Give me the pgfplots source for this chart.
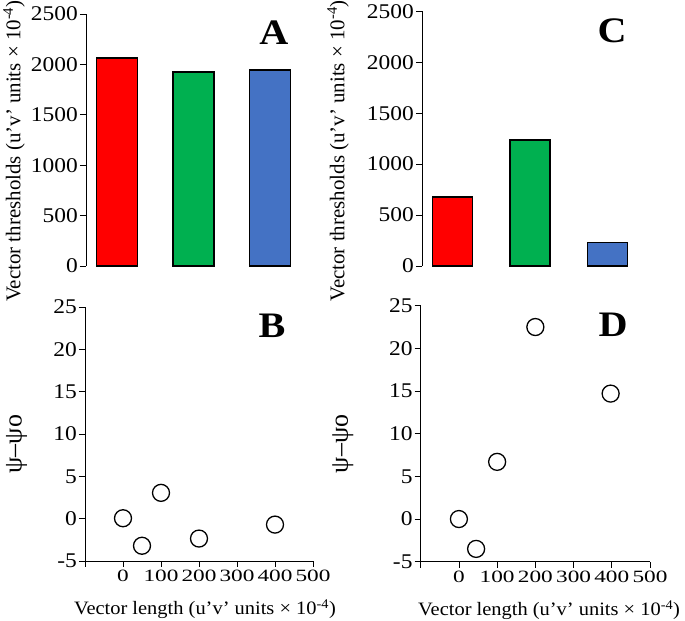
\documentclass[border=0pt]{standalone}
\usepackage{fontspec}
\setmainfont{Liberation Serif}
\newfontfamily\wideA[FakeStretch=1.12]{Liberation Serif}
\newfontfamily\wideB[FakeStretch=1.35]{Liberation Serif}
\newfontfamily\wideC[FakeStretch=1.08]{Liberation Serif}
\usepackage{pgfplots}
\pgfplotsset{compat=1.18}
\definecolor{cred}{RGB}{255,0,0}
\definecolor{cgreen}{RGB}{0,176,80}
\definecolor{cblue}{RGB}{68,114,196}
\tikzset{letter/.style={font=\bfseries\wideA\fontsize{36}{36}\selectfont, anchor=base}}
\pgfplotsset{
  common/.style={scale only axis, clip=false,
    /pgf/number format/assume math mode=true,
    /pgf/number format/1000 sep={},
    tick align=outside, major tick length=6bp,
    axis line style={line width=0.8bp, black},
    tick style={line width=0.8bp, black},
    yticklabel style={font=\wideA\fontsize{21}{24}\selectfont, inner sep=2bp},
  },
  barax/.style={common, axis y line*=left, axis x line=none,
    ymin=0, ymax=2500, ytick={0,500,...,2500}, xmin=0.6, xmax=3.4,
    ylabel={Vector thresholds (u’v’ units × 10\textsuperscript{-4})},
    ylabel style={font=\fontsize{21}{23}\selectfont, anchor=center},
  },
  scatax/.style={common, axis lines*=left,
    xmin=-100, xmax=500, ymin=-5, ymax=25,
    xtick={-100,0,100,200,300,400,500}, xticklabels={,0,100,200,300,400,500},
    ytick={-5,0,5,10,15,20,25},
    xticklabel style={font=\wideB\fontsize{17.3}{20}\selectfont, inner sep=3bp},
    ylabel={ψ–ψo},
    ylabel style={font=\fontsize{26}{28}\selectfont, anchor=center},
    xlabel={Vector length (u’v’ units × 10\textsuperscript{-4})},
    xlabel style={font=\wideC\fontsize{19}{22}\selectfont, anchor=center},
  },
  barst/.style={ybar, bar shift=0pt, draw=black, line width=1.1bp},
  scst/.style={only marks, mark=o, mark size=8.5bp, mark options={line width=1.3bp, draw=black, fill=white}},
}
\begin{document}
\begin{tikzpicture}
% Panel A
\begin{axis}[barax, at={(86bp,355bp)}, anchor=south west, width=215bp, height=252bp,
  ylabel style={at={(axis description cs:-0.335,0.456)}}]
\addplot[barst, bar width=41bp, fill=cred] coordinates {(1,2063)};
\addplot[barst, bar width=41bp, fill=cgreen] coordinates {(2,1925)};
\addplot[barst, bar width=41bp, fill=cblue] coordinates {(3,1944)};
\node[letter] at (rel axis cs:0.874,0.877) {A};
\end{axis}
% Panel C
\begin{axis}[barax, at={(422bp,355bp)}, anchor=south west, width=216bp, height=254.7bp,
  ylabel style={at={(axis description cs:-0.389,0.452)}}]
\addplot[barst, bar width=40bp, fill=cred] coordinates {(1,677)};
\addplot[barst, bar width=40bp, fill=cgreen] coordinates {(2,1237)};
\addplot[barst, bar width=40bp, fill=cblue] coordinates {(3,235)};
\node[letter] at (rel axis cs:0.88,0.876) {C};
\end{axis}
% Panel B
\begin{axis}[scatax, at={(85bp,60bp)}, anchor=south west, width=228bp, height=254bp,
  ylabel style={at={(axis description cs:-0.30,0.46)}},
  xlabel style={at={(axis description cs:0.526,-0.19)}}]
\addplot[scst] coordinates {(0,0.05) (50,-3.2) (100,3.05) (200,-2.35) (400,-0.7)};
\node[letter] at (rel axis cs:0.82,0.878) {B};
\end{axis}
% Panel D
\begin{axis}[scatax, at={(420.7bp,59.3bp)}, anchor=south west, width=229.3bp, height=256bp,
  ylabel style={at={(axis description cs:-0.34,0.46)}},
  xlabel style={at={(axis description cs:0.56,-0.19)}}]
\addplot[scst] coordinates {(0,0) (45,-3.5) (100,6.7) (200,22.5) (397,14.7)};
\node[letter] at (rel axis cs:0.839,0.878) {D};
\end{axis}
\pgfresetboundingbox
\path[use as bounding box] (0bp,0bp) rectangle (685bp,621bp);
\end{tikzpicture}
\end{document}
